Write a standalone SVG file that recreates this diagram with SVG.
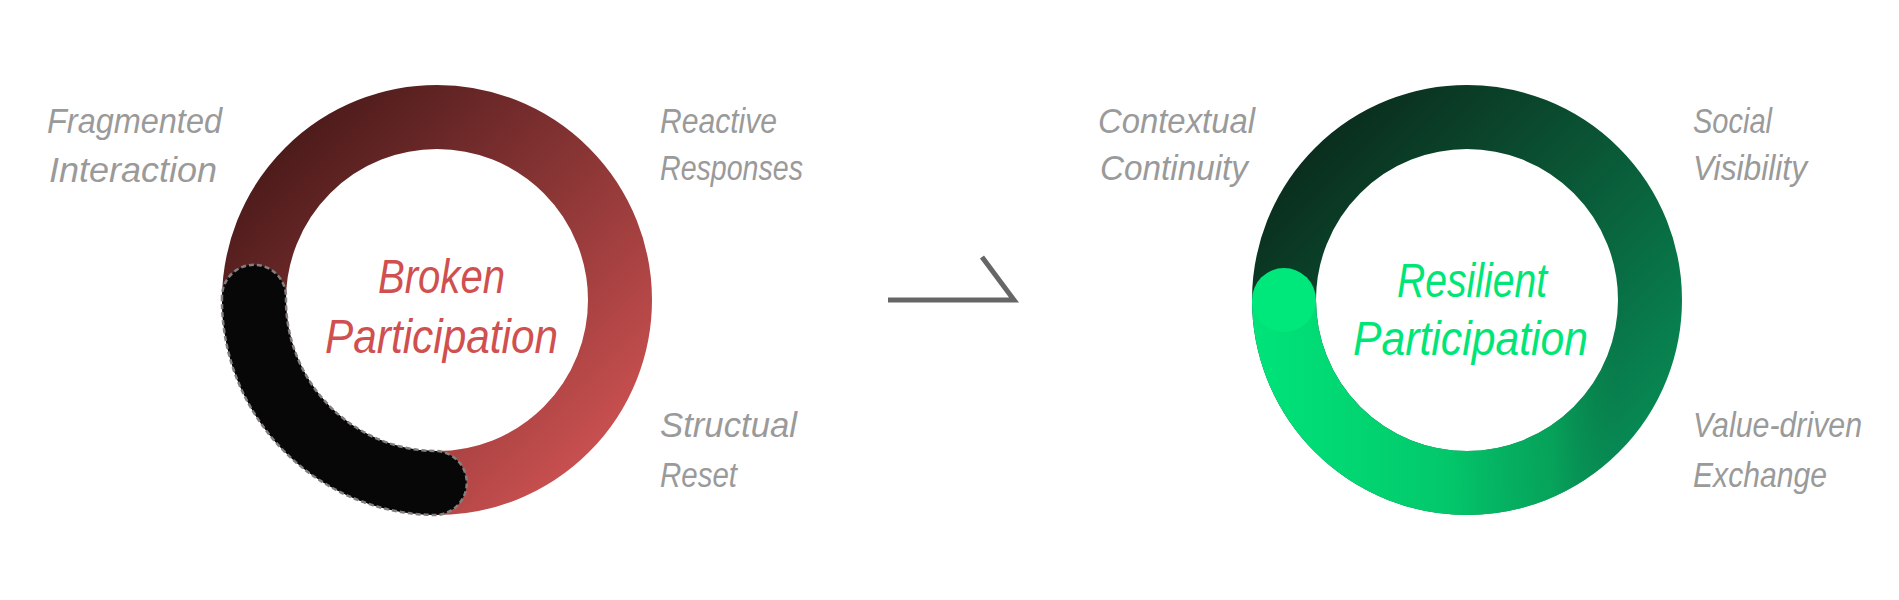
<svg xmlns="http://www.w3.org/2000/svg" width="1899" height="600" viewBox="0 0 1899 600">
  <style>
    .lbl { font-family: "Liberation Sans", "DejaVu Sans", sans-serif; font-style: italic; font-size: 35px; fill: #9a9a9a; }
    .ttl { font-family: "Liberation Sans", "DejaVu Sans", sans-serif; font-style: italic; font-size: 48px; }
    .ring { fill: none; stroke-width: 64; }
  </style>
  <defs>
    <linearGradient id="gRed" gradientUnits="userSpaceOnUse" x1="250" y1="110" x2="630" y2="490">
      <stop offset="0" stop-color="#3f1515"/>
      <stop offset="0.5" stop-color="#8a3535"/>
      <stop offset="1" stop-color="#d85656"/>
    </linearGradient>
    <linearGradient id="gGreen" gradientUnits="userSpaceOnUse" x1="1280" y1="110" x2="1660" y2="490">
      <stop offset="0" stop-color="#0a2418"/>
      <stop offset="0.45" stop-color="#0a5434"/>
      <stop offset="1" stop-color="#07955b"/>
    </linearGradient>
    <linearGradient id="gBright" gradientUnits="userSpaceOnUse" x1="1252" y1="0" x2="1683" y2="0">
      <stop offset="0" stop-color="#00e47a"/>
      <stop offset="0.45" stop-color="#03c86b"/>
      <stop offset="0.7" stop-color="#06aa5d" stop-opacity="0.8"/>
      <stop offset="0.85" stop-color="#08904f" stop-opacity="0"/>
    </linearGradient>
  </defs>

  <g id="broken-participation">
    <circle class="ring" cx="437" cy="300" r="183" stroke="url(#gRed)"/>
    <path d="M 222.0 296.2 A 215 215 0 0 0 434.4 515.0 A 32 32 0 0 0 435.2 451.0 A 151 151 0 0 1 286.0 297.4 A 32 32 0 0 0 222.0 296.2 Z" fill="#070707" stroke="#808080" stroke-width="2.5" stroke-dasharray="5 3"/>
    <text class="ttl" x="378" y="293" fill="#d04f4f" textLength="127" lengthAdjust="spacingAndGlyphs">Broken</text>
    <text class="ttl" x="325" y="353" fill="#d04f4f" textLength="233" lengthAdjust="spacingAndGlyphs">Participation</text>
  </g>

  <g id="label-fragmented">
    <text class="lbl" x="47" y="133" textLength="175" lengthAdjust="spacingAndGlyphs">Fragmented</text>
    <text class="lbl" x="49" y="182" textLength="168" lengthAdjust="spacingAndGlyphs">Interaction</text>
  </g>
  <g id="label-reactive">
    <text class="lbl" x="660" y="133" textLength="117" lengthAdjust="spacingAndGlyphs">Reactive</text>
    <text class="lbl" x="660" y="180" textLength="143" lengthAdjust="spacingAndGlyphs">Responses</text>
  </g>
  <g id="label-structual">
    <text class="lbl" x="660" y="437" textLength="137" lengthAdjust="spacingAndGlyphs">Structual</text>
    <text class="lbl" x="660" y="487" textLength="77" lengthAdjust="spacingAndGlyphs">Reset</text>
  </g>

  <g id="resilient-participation">
    <circle class="ring" cx="1467" cy="300" r="183" stroke="url(#gGreen)"/>
    <path class="ring" d="M 1284 300 A 183 183 0 0 0 1650 300" stroke="url(#gBright)"/>
    <circle cx="1284" cy="300" r="32" fill="#00e87c"/>
    <text class="ttl" x="1397" y="297" fill="#00e676" textLength="150" lengthAdjust="spacingAndGlyphs">Resilient</text>
    <text class="ttl" x="1353" y="355" fill="#00e676" textLength="235" lengthAdjust="spacingAndGlyphs">Participation</text>
  </g>

  <g id="label-contextual">
    <text class="lbl" x="1098" y="133" textLength="157" lengthAdjust="spacingAndGlyphs">Contextual</text>
    <text class="lbl" x="1100" y="180" textLength="148" lengthAdjust="spacingAndGlyphs">Continuity</text>
  </g>
  <g id="label-social">
    <text class="lbl" x="1693" y="133" textLength="79" lengthAdjust="spacingAndGlyphs">Social</text>
    <text class="lbl" x="1693" y="180" textLength="114" lengthAdjust="spacingAndGlyphs">Visibility</text>
  </g>
  <g id="label-value">
    <text class="lbl" x="1693" y="437" textLength="169" lengthAdjust="spacingAndGlyphs">Value-driven</text>
    <text class="lbl" x="1693" y="487" textLength="134" lengthAdjust="spacingAndGlyphs">Exchange</text>
  </g>

  <g id="connectors">
    <polyline points="888,300 1014,300 982,257" fill="none" stroke="#666666" stroke-width="5" stroke-linejoin="miter"/>
  </g>
</svg>
